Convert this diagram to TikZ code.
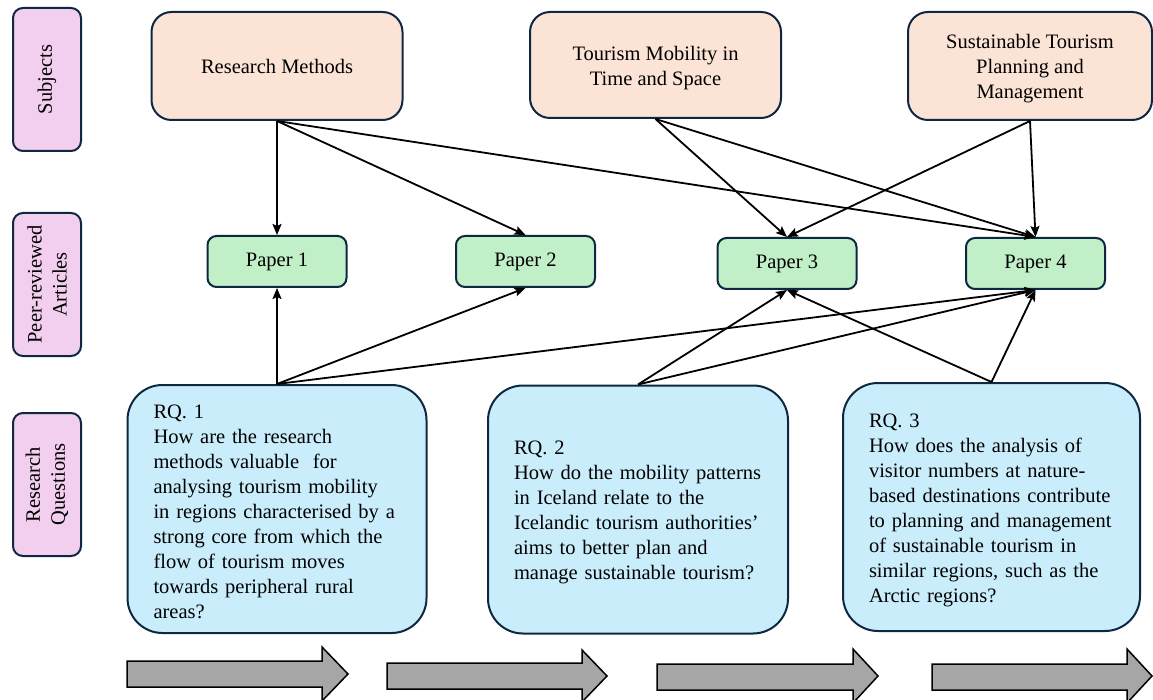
\documentclass[tikz,border=0pt]{standalone}
\usepackage{fontspec}
\setmainfont{Liberation Serif}
\usetikzlibrary{arrows.meta}
\definecolor{bordc}{HTML}{0E2841}
\definecolor{pinkc}{HTML}{F2CFEE}
\definecolor{orangec}{HTML}{FBE3D6}
\definecolor{greenc}{HTML}{C1F0C8}
\definecolor{bluec}{HTML}{CAEDFB}
\definecolor{grayc}{HTML}{A6A6A6}
\begin{document}
\begin{tikzpicture}[x=1pt,y=-1pt,
  font=\fontsize{20.5}{25}\selectfont,
  sidebox/.style={draw=bordc, line width=2pt, fill=pinkc, rounded corners=10pt, rotate=90,
    minimum width=143pt, minimum height=68pt, align=center, inner sep=0pt},
  subjbox/.style={draw=bordc, line width=2pt, fill=orangec, rounded corners=20pt,
    minimum height=108pt, align=center, inner sep=0pt},
  paperbox/.style={draw=bordc, line width=2pt, fill=greenc, rounded corners=9pt,
    minimum width=139pt, minimum height=51pt, inner sep=0pt},
  rqbox/.style={draw=bordc, line width=2pt, fill=bluec, rounded corners=35pt,
    minimum height=248pt, align=left, inner sep=0pt,
    execute at begin node={\hyphenpenalty=10000\leftskip=26pt\relax}},
  conn/.style={line width=1.8pt, -{Stealth[length=11pt,width=9pt,inset=2pt]}},
  bigarrow/.style={draw=black, line width=1.5pt, fill=grayc, line join=miter}
]
\clip (0,0) rectangle (1153,700);
\fill[white] (0,0) rectangle (1153,700);

% side labels
\node[sidebox] (lsub) at (47,79.5) {Subjects};
\node[sidebox] (lpeer) at (47,284.5) {Peer-reviewed\\Articles};
\node[sidebox] (lrq) at (47,484.5) {Research\\Questions};

% subjects
\node[subjbox, minimum width=251pt] (rm) at (277,66) {Research Methods};
\node[subjbox, minimum width=251pt, minimum height=106pt] (tm) at (655.5,65) {\rule{0pt}{20pt}Tourism Mobility in\\Time and Space};
\node[subjbox, minimum width=244pt] (st) at (1030,66) {\rule{0pt}{20pt}Sustainable Tourism\\Planning and\\Management};

% papers
\node[paperbox] (p1) at (277,261.5) {Paper 1};
\node[paperbox] (p2) at (525.5,261.5) {Paper 2};
\node[paperbox] (p3) at (787,263.5) {Paper 3};
\node[paperbox] (p4) at (1035.5,263.5) {Paper 4};

% research questions
\node[rqbox, text width=299pt, minimum width=299pt] (rq1) at (277,509) {\rule{0pt}{20pt}RQ. 1\\How are the research\\methods valuable\ \ for\\analysing tourism mobility\\in regions characterised by a\\strong core from which the\\flow of tourism moves\\towards peripheral rural\\areas?};
\node[rqbox, text width=300pt, minimum width=300pt] (rq2) at (638,509.5) {\rule{0pt}{20pt}RQ. 2\\How do the mobility patterns\\in Iceland relate to the\\Icelandic tourism authorities’\\aims to better plan and\\manage sustainable tourism?};
\node[rqbox, text width=297pt, minimum width=297pt] (rq3) at (991.5,507) {\rule{0pt}{20pt}RQ. 3\\How does the analysis of\\visitor numbers at nature-\\based destinations contribute\\to planning and management\\of sustainable tourism in\\similar regions, such as the\\Arctic regions?};

% connectors from subjects
\draw[conn] (rm.south) -- (p1.north);
\draw[conn] (rm.south) -- (p2.north);
\draw[conn] (rm.south) -- (p4.north);
\draw[conn] (tm.south) -- (p3.north);
\draw[conn] (tm.south) -- (p4.north);
\draw[conn] (st.south) -- (p3.north);
\draw[conn] (st.south) -- (p4.north);

% connectors from research questions
\draw[conn] (rq1.north) -- (p1.south);
\draw[conn] (rq1.north) -- (p2.south);
\draw[conn] (rq1.north) -- (p4.south);
\draw[conn] (rq2.north) -- (p3.south);
\draw[conn] (rq2.north) -- (p4.south);
\draw[conn] (rq3.north) -- (p3.south);
\draw[conn] (rq3.north) -- (p4.south);

% big grey arrows
\draw[bigarrow] (127,661) -- (322,661) -- (322,647) -- (348,674) -- (322,701) -- (322,687) -- (127,687) -- cycle;
\draw[bigarrow] (387,663) -- (582,663) -- (582,650) -- (607,676) -- (582,702) -- (582,689) -- (387,689) -- cycle;
\draw[bigarrow] (657,664) -- (853,664) -- (853,649) -- (878,676) -- (853,703) -- (853,690) -- (657,690) -- cycle;
\draw[bigarrow] (932,664) -- (1127,664) -- (1127,649) -- (1152,676) -- (1127,703) -- (1127,690) -- (932,690) -- cycle;
\end{tikzpicture}
\end{document}
